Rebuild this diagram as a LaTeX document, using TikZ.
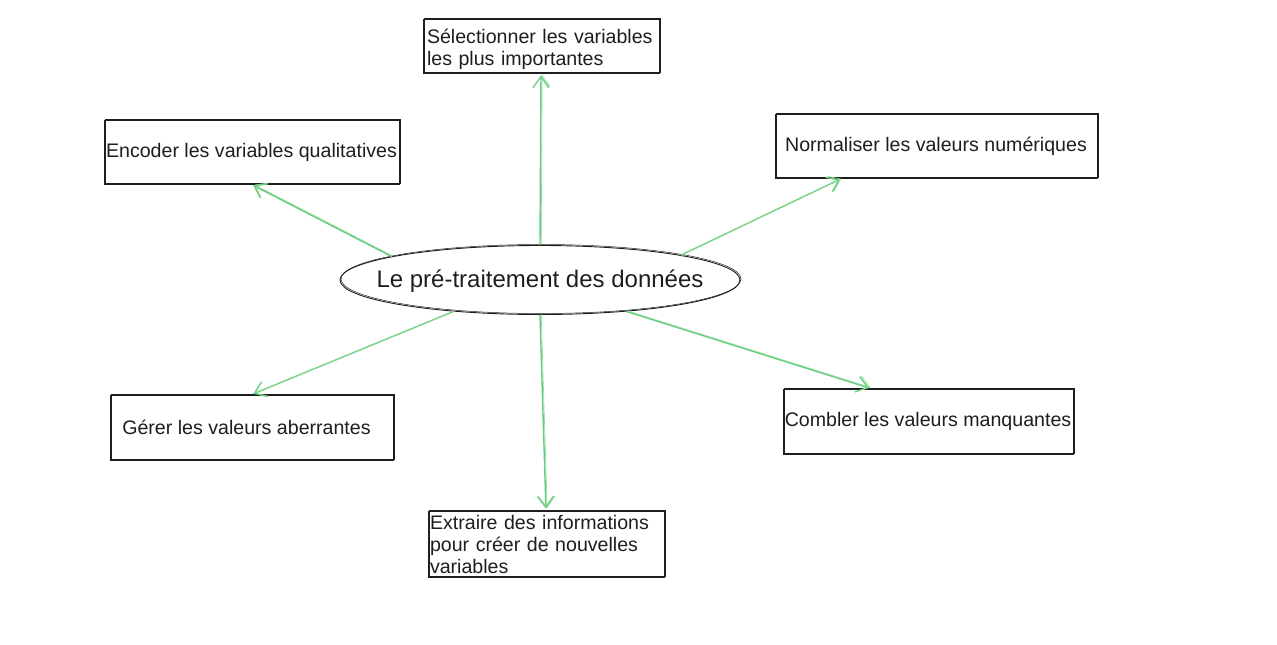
\documentclass[tikz,border=0pt]{standalone}
\usepackage{fontspec}
\setmainfont{Liberation Sans}
\usetikzlibrary{shapes.geometric,arrows.meta}
\definecolor{arrowgreen}{RGB}{64,192,87}
\definecolor{inkblack}{RGB}{30,30,30}

\begin{document}
\begin{tikzpicture}[x=1pt,y=-1pt,
	box/.style={draw=inkblack, line width=0.9pt, rectangle, minimum height=64pt, inner sep=0pt,
		font=\fontsize{19.6}{22}\selectfont, text=inkblack,
		postaction={draw=inkblack, line width=0.5pt, transform canvas={shift={(1.2pt,0.8pt)}}}},
	link/.style={draw=arrowgreen!80!white, line width=1.4pt, -{Straight Barb[length=11pt,width=16pt]}, shorten >=2pt,
		postaction={draw=arrowgreen!60!white, line width=0.6pt, transform canvas={shift={(1.2pt,0.6pt)}}}}]
	\useasboundingbox (0,0) rectangle (1277,645);
	% centre
	\node[draw=inkblack, line width=0.9pt, ellipse, minimum width=400pt, minimum height=69pt,
		postaction={draw=inkblack, line width=0.5pt, transform canvas={shift={(1pt,1pt)}}}] (core) at (540,280) {};
	\node[font=\fontsize{24}{28}\selectfont, text=inkblack] (coretext) at (540,281) {Le pré-traitement des données};
	% steps
	\node[box, minimum width=236pt, minimum height=54pt, text width=228pt, align=left] (sel) at (541,46) {\rule{0pt}{22pt}Sélectionner les variables\\les plus importantes};
	\node[box, minimum width=295pt] (enc) at (251.5,152) {Encoder les variables qualitatives};
	\node[box, minimum width=322pt] (norm) at (936,146) {Normaliser les valeurs numériques};
	\node[box, minimum width=283pt, minimum height=65pt] (ger) at (251.5,427.5) {Gérer les valeurs aberrantes\hspace*{10pt}};
	\node[box, minimum width=290pt, minimum height=65pt] (comb) at (928,421.5) {Combler les valeurs manquantes};
	\node[box, minimum width=236pt, minimum height=66pt, text width=232pt, align=left] (ext) at (546,544) {Extraire des informations\\pour créer de nouvelles\\variables};
	% arrows
	\draw[link] (core.north) -- (sel.south);
	\draw[link] (core.171.8) -- (enc.south);
	\draw[link] (core.10) -- (norm.199);
	\draw[link] (core.200) -- (ger.north);
	\draw[link] (core.340) -- (comb.150);
	\draw[link] (core.south) -- (ext.north);
\end{tikzpicture}
\end{document}
